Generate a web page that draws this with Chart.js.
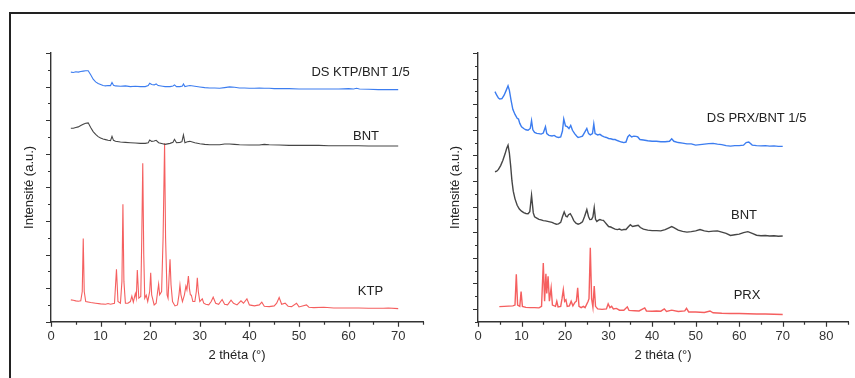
<!DOCTYPE html>
<html>
<head>
<meta charset="utf-8">
<script src="https://cdn.jsdelivr.net/npm/chart.js@4.4.1/dist/chart.umd.min.js"></script>
<style>
    body { margin: 0; background: #fff; overflow: hidden; }
    #frame { position: absolute; left: 9px; top: 12px; width: 900px; height: 400px; border-top: 2px solid #222; border-left: 2px solid #222; }
    #leftWrap { position: absolute; left: 0; top: 0; width: 430px; height: 378px; }
    #rightWrap { position: absolute; left: 430px; top: 0; width: 425px; height: 378px; }
</style>
</head>
<body>
<div id="frame"></div>
<div id="leftWrap"><canvas id="ktpChart" width="430" height="378"></canvas></div>
<div id="rightWrap"><canvas id="prxChart" width="425" height="378"></canvas></div>
<script>
// 2 theta (deg), intensity (offset, a.u.)
var dsKtpBnt = [[4,7.43],[4.5,7.42],[5,7.44],[5.5,7.43],[6,7.45],[6.5,7.46],[7,7.47],[7.5,7.47],[8,7.35],[8.5,7.22],[9,7.14],[9.5,7.09],[10,7.06],[10.5,7.03],[11,7.02],[11.5,7.03],[12,7.03],[12.3,7.12],[12.6,7.04],[13,7.02],[14,7.01],[15,7.02],[16,7.0],[17,7.01],[18,7.0],[19,7.0],[19.6,7.03],[19.9,7.1],[20.3,7.06],[20.8,7.05],[21.2,7.08],[21.6,7.03],[22.5,7.01],[23,7.0],[24,7.0],[24.6,7.02],[24.9,7.05],[25.3,7.0],[26,7.0],[26.5,7.02],[26.7,7.08],[27,7.0],[27.5,7.02],[28,7.03],[29,7.01],[30,6.99],[31,6.97],[32,6.96],[33,6.96],[34,6.95],[35,6.97],[36,6.99],[37,6.98],[38,6.96],[39,6.96],[40,6.95],[41,6.95],[42,6.96],[43,6.95],[44,6.95],[45,6.94],[46,6.94],[48,6.94],[50,6.93],[52,6.93],[54,6.93],[56,6.93],[58,6.93],[60,6.94],[61,6.93],[61.6,6.95],[62.2,6.93],[64,6.92],[66,6.91],[68,6.91],[70,6.91]];

var bntLeft = [[4,5.76],[4.5,5.76],[5,5.78],[5.5,5.8],[6,5.84],[6.5,5.88],[7,5.91],[7.5,5.92],[8,5.78],[8.5,5.66],[9,5.58],[9.5,5.51],[10,5.47],[10.5,5.44],[11,5.42],[11.5,5.4],[12,5.39],[12.3,5.52],[12.6,5.4],[13,5.37],[14,5.35],[15,5.34],[16,5.33],[17,5.32],[18,5.31],[19,5.31],[19.6,5.33],[19.9,5.41],[20.3,5.37],[20.8,5.38],[21.2,5.4],[21.7,5.33],[22.5,5.3],[23,5.28],[24,5.31],[24.6,5.34],[24.9,5.43],[25.3,5.33],[26,5.34],[26.4,5.36],[26.7,5.56],[27,5.33],[27.5,5.36],[28,5.37],[29,5.33],[30,5.3],[31,5.28],[32,5.27],[33,5.27],[34,5.27],[35,5.29],[36,5.29],[37,5.28],[38,5.27],[40,5.26],[42,5.26],[43,5.28],[44,5.27],[46,5.26],[48,5.25],[50,5.25],[52,5.25],[54,5.25],[56,5.24],[58,5.24],[60,5.24],[62,5.24],[64,5.23],[66,5.23],[68,5.23],[70,5.23]];

var ktp = [[4,0.65],[4.5,0.64],[5,0.62],[5.5,0.61],[6,0.62],[6.3,0.9],[6.5,2.48],[6.7,0.9],[7,0.6],[8,0.57],[9,0.55],[10,0.53],[11,0.52],[11.5,0.54],[12,0.52],[12.8,0.55],[13.2,1.56],[13.5,0.6],[14,0.55],[14.3,1.2],[14.5,3.5],[14.7,1.2],[15,0.55],[15.5,0.55],[16,0.6],[16.3,0.76],[16.6,0.58],[17,0.84],[17.2,0.7],[17.4,1.54],[17.7,0.7],[18.1,0.75],[18.3,2.5],[18.5,4.72],[18.7,2.0],[18.9,0.7],[19.2,0.79],[19.5,0.6],[19.9,0.9],[20.1,1.46],[20.3,0.8],[20.8,0.5],[21.2,0.55],[21.5,0.9],[21.7,1.12],[21.9,0.8],[22.3,0.9],[22.6,2.5],[22.9,5.31],[23.1,2.5],[23.4,0.8],[23.6,0.7],[23.8,1.3],[24.0,1.86],[24.2,1.1],[24.5,0.6],[25,0.47],[25.5,0.5],[25.8,0.8],[26.0,1.09],[26.2,0.8],[26.5,0.6],[26.9,0.8],[27.2,1.06],[27.4,0.95],[27.7,1.36],[27.9,1.0],[28.1,0.8],[28.3,0.79],[28.6,0.6],[29,0.6],[29.3,0.9],[29.5,1.31],[29.7,0.9],[30,0.6],[30.5,0.68],[30.8,0.55],[31.2,0.52],[31.8,0.5],[32.3,0.6],[32.7,0.73],[33.2,0.55],[33.8,0.52],[34.5,0.66],[35,0.52],[35.6,0.5],[36.3,0.64],[36.8,0.55],[37.5,0.5],[38.3,0.62],[38.8,0.55],[39.5,0.68],[40,0.5],[41,0.47],[42,0.5],[42.5,0.58],[43,0.46],[44,0.45],[45,0.47],[45.5,0.55],[46,0.72],[46.5,0.52],[47.2,0.55],[47.8,0.46],[48.5,0.45],[49.5,0.55],[50,0.44],[51.5,0.5],[52,0.43],[53,0.42],[55,0.43],[57,0.41],[60,0.41],[62,0.41],[64,0.4],[67,0.4],[68,0.41],[70,0.39]];

var dsPrxBnt = [[3.9,8.49],[4.3,8.35],[4.7,8.24],[5,8.2],[5.5,8.22],[6,8.35],[6.5,8.55],[6.9,8.72],[7.2,8.55],[7.6,8.15],[8,7.8],[8.5,7.6],[9,7.45],[9.3,7.42],[9.6,7.25],[10,7.12],[10.5,7.05],[11,7.0],[11.5,6.98],[12,7.05],[12.3,7.36],[12.6,7.0],[13,6.9],[13.5,6.86],[14,6.85],[14.5,6.83],[15,6.87],[15.5,7.12],[15.8,6.85],[16.3,6.78],[17,6.76],[17.5,6.78],[18,6.72],[18.5,6.7],[19,6.72],[19.4,6.95],[19.7,7.42],[20.1,7.15],[20.5,7.12],[20.9,7.05],[21.3,7.17],[21.7,6.98],[22.2,6.85],[22.7,6.75],[23,6.7],[23.5,6.72],[24,6.75],[24.5,6.9],[25,7.05],[25.4,6.85],[25.8,6.8],[26.3,6.85],[26.6,7.23],[26.9,6.85],[27.5,6.8],[28,6.82],[28.5,6.76],[29,6.72],[29.5,6.7],[30,6.66],[30.5,6.65],[31,6.62],[31.5,6.62],[32,6.58],[32.5,6.55],[33,6.52],[33.5,6.5],[34,6.52],[34.4,6.72],[34.8,6.8],[35.3,6.72],[35.8,6.75],[36.3,6.74],[36.7,6.72],[37.2,6.62],[38,6.6],[39,6.57],[40,6.55],[41,6.55],[42,6.53],[43,6.53],[44,6.55],[44.5,6.65],[45,6.55],[46,6.5],[47,6.48],[48,6.45],[49,6.45],[50,6.4],[51,6.42],[52,6.44],[53,6.46],[54,6.47],[55,6.44],[56,6.42],[57,6.38],[58,6.36],[59,6.38],[60,6.38],[61,6.4],[61.6,6.5],[62.2,6.52],[63,6.4],[64,6.38],[65,6.37],[66,6.38],[67,6.36],[68,6.37],[69,6.35],[70,6.35]];

var bntRight = [[3.9,5.36],[4.3,5.38],[4.7,5.45],[5.2,5.6],[5.7,5.8],[6.2,6.05],[6.6,6.28],[6.9,6.4],[7.2,6.1],[7.5,5.6],[7.8,5.0],[8.1,4.6],[8.5,4.3],[9,4.05],[9.5,3.9],[10,3.82],[10.5,3.76],[11,3.73],[11.5,3.72],[11.9,3.8],[12.3,4.44],[12.7,3.75],[13,3.6],[13.5,3.55],[14,3.5],[14.5,3.48],[15,3.45],[15.5,3.44],[16,3.42],[16.5,3.4],[17,3.38],[17.5,3.34],[18,3.31],[18.5,3.32],[19,3.38],[19.4,3.6],[19.8,3.79],[20.2,3.62],[20.5,3.6],[20.8,3.68],[21.2,3.72],[21.6,3.6],[22,3.45],[22.5,3.35],[23,3.31],[23.5,3.34],[24,3.4],[24.5,3.62],[25,3.88],[25.4,3.6],[25.7,3.49],[26.1,3.5],[26.4,3.6],[26.7,3.96],[27,3.5],[27.3,3.42],[27.7,3.47],[28,3.49],[28.4,3.47],[28.8,3.46],[29.2,3.38],[29.6,3.3],[30,3.22],[30.5,3.2],[31,3.16],[31.5,3.12],[32,3.1],[32.5,3.12],[33,3.08],[33.5,3.1],[34,3.1],[34.5,3.2],[35,3.29],[35.5,3.22],[36,3.24],[36.8,3.27],[37.3,3.18],[38,3.12],[39,3.08],[40,3.06],[41,3.06],[42,3.05],[43,3.1],[44,3.18],[44.5,3.22],[45,3.18],[46,3.08],[47,3.03],[48,3.0],[49,3.02],[50,3.05],[51,3.1],[52,3.05],[53,3.02],[54,3.04],[55,3.05],[56,3.0],[57,2.95],[58,2.87],[59,2.9],[60,2.92],[61,2.98],[62,3.02],[63,2.95],[64,2.88],[65,2.86],[66,2.87],[67,2.85],[68,2.86],[69,2.84],[70,2.85]];

var prx = [[4.9,0.09],[6,0.1],[7,0.11],[8,0.12],[8.5,0.15],[8.8,1.35],[9.1,0.15],[9.6,0.1],[9.9,0.68],[10.2,0.1],[11,0.06],[12,0.05],[13,0.05],[14,0.04],[14.6,0.1],[15.0,1.79],[15.3,0.3],[15.6,1.37],[15.8,0.6],[16.1,1.27],[16.4,0.3],[16.8,0.82],[17.1,0.15],[17.8,0.1],[18.1,0.3],[18.4,0.08],[19,0.1],[19.3,0.4],[19.6,0.75],[19.9,0.3],[20.2,0.36],[20.5,0.1],[21,0.12],[21.4,0.3],[21.8,0.12],[22.3,0.26],[22.6,0.3],[22.9,0.82],[23.2,0.1],[23.7,0.05],[24.2,0.1],[24.6,0.05],[25.3,0.3],[25.5,0.4],[25.8,2.39],[26.1,0.4],[26.4,0.06],[26.7,0.89],[27,0.1],[27.5,0.0],[28.5,-0.02],[29.5,0.0],[29.9,0.2],[30.3,0.05],[30.7,0.1],[31.1,0.0],[31.8,0.02],[32.5,-0.05],[33.5,-0.05],[34.3,0.08],[34.7,-0.06],[36,-0.07],[37,-0.08],[38.3,0.04],[38.7,-0.08],[40,-0.09],[41,-0.08],[42,-0.09],[42.8,0.0],[43.3,-0.1],[44.5,-0.05],[46,-0.1],[47.5,-0.08],[47.9,0.02],[48.4,-0.12],[50,-0.12],[52,-0.14],[53.3,-0.08],[54,-0.15],[56,-0.17],[58,-0.18],[60,-0.18],[62,-0.19],[64,-0.2],[66,-0.2],[68,-0.21],[70,-0.22]];

var ktpNames = ['DS KTP/BNT 1/5', 'BNT', 'KTP'];
var prxNames = ['DS PRX/BNT 1/5', 'BNT', 'PRX'];

var FONT = '"Liberation Sans", Arial, sans-serif';
var BLUE = 'rgb(60,125,240)', GREY = 'rgb(70,70,70)', RED = 'rgb(245,95,95)';

// outward tick marks, long on majors, short on minors
var tickMarks = {
    id: 'tickMarks',
    afterDraw: function (chart, args, opts) {
        var ctx = chart.ctx, a = chart.chartArea;
        var xs = chart.scales.x, ys = chart.scales.y;
        ctx.save();
        ctx.strokeStyle = '#333';
        ctx.lineWidth = 1.2;
        ctx.beginPath();
        xs.ticks.forEach(function (t) {
            var px = Math.round(xs.getPixelForValue(t.value)) + 0.5;
            var len = (Math.round(t.value) % opts.xMajor === 0) ? 5 : 3;
            ctx.moveTo(px, a.bottom);
            ctx.lineTo(px, a.bottom + len);
        });
        ys.ticks.forEach(function (t) {
            var py = Math.round(ys.getPixelForValue(t.value)) + 0.5;
            var major = Math.abs(t.value - Math.round(t.value)) < 1e-6;
            ctx.moveTo(a.left, py);
            ctx.lineTo(a.left - (major ? 5 : 3), py);
        });
        ctx.stroke();
        ctx.restore();
    }
};

// series names written next to each trace
var seriesNames = {
    id: 'seriesNames',
    afterDatasetsDraw: function (chart, args, opts) {
        var ctx = chart.ctx;
        ctx.save();
        ctx.font = '13px ' + FONT;
        ctx.fillStyle = '#222';
        ctx.textAlign = 'center';
        ctx.textBaseline = 'middle';
        opts.names.forEach(function (name, i) {
            var p = opts.at[i];
            ctx.fillText(name, chart.scales.x.getPixelForValue(p[0]), chart.scales.y.getPixelForValue(p[1]));
        });
        ctx.restore();
    }
};

function makeChart(id, series, names, at, xMax, yMin, yMax, yWidth, yTitlePad, padRight, lw) {
    return new Chart(document.getElementById(id).getContext('2d'), {
        type: 'line',
        data: {
            datasets: [
                { data: series[0], borderColor: BLUE, borderWidth: lw, pointRadius: 0, tension: 0 },
                { data: series[1], borderColor: GREY, borderWidth: lw, pointRadius: 0, tension: 0 },
                { data: series[2], borderColor: RED, borderWidth: lw, pointRadius: 0, tension: 0 }
            ]
        },
        options: {
            responsive: false,
            animation: false,
            layout: { padding: { top: 53, right: padRight, left: 0, bottom: 0 } },
            plugins: {
                legend: { display: false },
                tooltip: { enabled: false },
                tickMarks: { xMajor: 10 },
                seriesNames: { names: names, at: at }
            },
            scales: {
                x: {
                    type: 'linear',
                    min: 0,
                    max: xMax,
                    grid: { display: false, drawTicks: false },
                    border: { color: '#333', width: 1.4 },
                    ticks: {
                        stepSize: 5,
                        padding: 7,
                        color: '#333',
                        font: { family: FONT, size: 13 },
                        maxRotation: 0,
                        autoSkip: false,
                        callback: function (v) { return v % 10 === 0 ? v : ''; }
                    },
                    title: {
                        display: true,
                        text: '2 théta (°)',
                        color: '#222',
                        font: { family: FONT, size: 13 },
                        padding: { top: 0, bottom: 15 }
                    },
                    afterFit: function (s) { s.height = 56.3; }
                },
                y: {
                    min: yMin,
                    max: yMax,
                    grid: { display: false, drawTicks: false },
                    border: { color: '#333', width: 1.4 },
                    ticks: { stepSize: 0.5, display: false },
                    title: {
                        display: true,
                        text: 'Intensité (a.u.)',
                        color: '#222',
                        font: { family: FONT, size: 13 },
                        padding: { top: yTitlePad, bottom: 0 }
                    },
                    afterFit: function (s) { s.width = yWidth; }
                }
            }
        },
        plugins: [tickMarks, seriesNames]
    });
}

var ktpChart = makeChart('ktpChart', [dsKtpBnt, bntLeft, ktp], ktpNames,
    [[62.4, 7.41], [63.5, 5.53], [64.4, 0.89]], 75, 0, 8, 51, 22, 7, 1.1);

var prxChart = makeChart('prxChart', [dsPrxBnt, bntRight, prx], prxNames,
    [[64, 7.45], [61.1, 3.66], [61.8, 0.52]], 85, -0.5, 10, 48, 18, 5, 1.4);
</script>
</body>
</html>
